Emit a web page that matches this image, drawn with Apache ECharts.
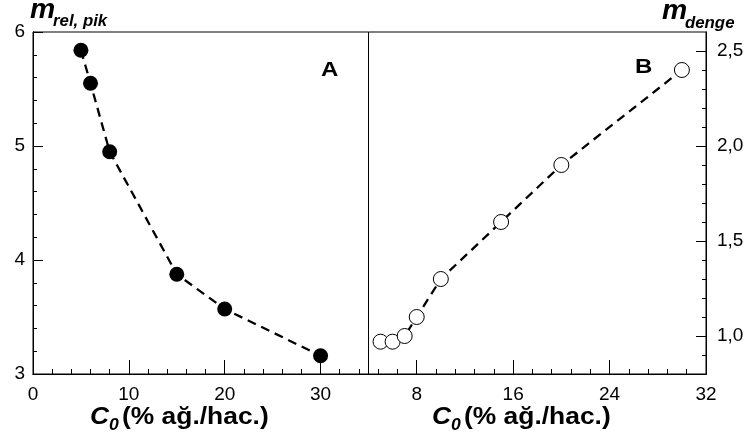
<!DOCTYPE html>
<html>
<head>
<meta charset="utf-8">
<script src="https://cdn.jsdelivr.net/npm/echarts@6/dist/echarts.min.js"></script>
<style>
  html, body { margin: 0; padding: 0; background: #fff; }
  #chart { width: 750px; height: 443px; }
</style>
</head>
<body>
<div id="chart"></div>
<script>
// Panel A: peak relative m against initial concentration
const concA = [5, 6, 8, 15, 20, 30];
const mRelPik = [5.84, 5.55, 4.95, 3.875, 3.57, 3.16];

// Panel B: equilibrium m against initial concentration
const concB = [5, 6, 7, 8, 10, 15, 20, 30];
const mDenge = [0.97, 0.97, 1.0, 1.10, 1.30, 1.60, 1.90, 2.40];

// Tick positions
const xMajorA = [0, 10, 20, 30];
const xMinorA = [2, 4, 6, 8, 12, 14, 16, 18, 22, 24, 26, 28, 32, 34];
const yMajorA = [3, 4, 5, 6];
const yMinorA = [3.2, 3.4, 3.6, 3.8, 4.2, 4.4, 4.6, 4.8, 5.2, 5.4, 5.6, 5.8];
const xMajorB = [8, 16, 24, 32];
const xMinorB = [4.8, 6.4, 9.6, 11.2, 12.8, 14.4, 17.6, 19.2, 20.8, 22.4, 25.6, 27.2, 28.8, 30.4];
const yMajorB = [1.0, 1.5, 2.0, 2.5];
const yMinorB = [0.9, 1.1, 1.2, 1.3, 1.4, 1.6, 1.7, 1.8, 1.9, 2.1, 2.2, 2.3, 2.4];

const FONT = '"Liberation Sans", Arial, sans-serif';
const chart = echarts.init(document.getElementById('chart'), null, { renderer: 'canvas' });

function axis(gridIndex, position, min, max, ticks, tickLen, withLabels, margin, fmt) {
  return {
    type: 'value',
    gridIndex,
    position,
    min,
    max,
    axisLine: { show: true, onZero: false, lineStyle: { color: '#000', width: 1 } },
    axisTick: { show: true, inside: true, length: tickLen, customValues: ticks,
                lineStyle: { color: '#000', width: 1 } },
    axisLabel: withLabels ? {
      show: true, customValues: ticks, margin,
      color: '#000', fontSize: 19, fontFamily: FONT,
      formatter: fmt || (v => String(v))
    } : { show: false },
    splitLine: { show: false }
  };
}

const comma = v => v.toFixed(1).replace('.', ',');

// text helper: slightly widened glyphs, anchored at the left edge
function label(x, y, text, font, sx) {
  return {
    type: 'text', x, y, scaleX: sx || 1.1, scaleY: 1,
    style: { text, font: font + ' ' + FONT, fill: '#000', verticalAlign: 'middle' }
  };
}

const option = {
  animation: false,
  backgroundColor: '#fff',
  grid: [
    { left: 33, top: 32, width: 335.5, height: 342, show: true, borderColor: '#000', borderWidth: 1 },
    { left: 368.5, top: 32, width: 337.5, height: 342, show: true, borderColor: '#000', borderWidth: 1 }
  ],
  xAxis: [
    axis(0, 'bottom', 0, 35, xMajorA, 14, true, 11),
    axis(0, 'bottom', 0, 35, xMinorA, 5, false),
    axis(1, 'bottom', 4, 32, xMajorB, 14, true, 11),
    axis(1, 'bottom', 4, 32, xMinorB, 5, false)
  ],
  yAxis: [
    axis(0, 'left', 3, 6, yMajorA, 10, true, 8),
    axis(0, 'left', 3, 6, yMinorA, 4, false),
    axis(1, 'right', 0.8, 2.6, yMajorB, 10, true, 11, comma),
    axis(1, 'right', 0.8, 2.6, yMinorB, 4, false)
  ],
  series: [
    {
      type: 'line',
      xAxisIndex: 0, yAxisIndex: 0,
      data: concA.map((c, i) => [c, mRelPik[i]]),
      symbol: 'circle', symbolSize: 15,
      itemStyle: { color: '#000', borderColor: '#000', borderWidth: 0 },
      lineStyle: { color: '#000', width: 2.3, type: [9, 6] }
    },
    {
      type: 'line',
      xAxisIndex: 2, yAxisIndex: 2,
      data: concB.map((c, i) => [c, mDenge[i]]),
      symbol: 'circle', symbolSize: 15,
      itemStyle: { color: '#fff', borderColor: '#000', borderWidth: 1 },
      lineStyle: { color: '#000', width: 2.3, type: [9, 6] }
    }
  ],
  graphic: [
    // panel letters
    label(321, 70, 'A', 'bold 20px', 1.2),
    label(635, 67, 'B', 'bold 20px', 1.2),
    // left y title
    label(30, 11, 'm', 'italic bold 27px', 1.05),
    label(53, 22, 'rel, pik', 'italic bold 16px', 1.05),
    // right y title
    label(662, 12, 'm', 'italic bold 27px', 1.05),
    label(685, 24, 'denge', 'italic bold 16px', 1.05),
    // x titles
    label(90, 417, 'C', 'italic bold 24px', 1.1),
    label(109, 426, '0', 'italic bold 16px', 1.1),
    label(122, 417, '(% ağ./hac.)', 'bold 24px', 1.1),
    label(432, 417, 'C', 'italic bold 24px', 1.1),
    label(451, 426, '0', 'italic bold 16px', 1.1),
    label(464, 417, '(% ağ./hac.)', 'bold 24px', 1.1)
  ]
};

chart.setOption(option);
</script>
</body>
</html>
